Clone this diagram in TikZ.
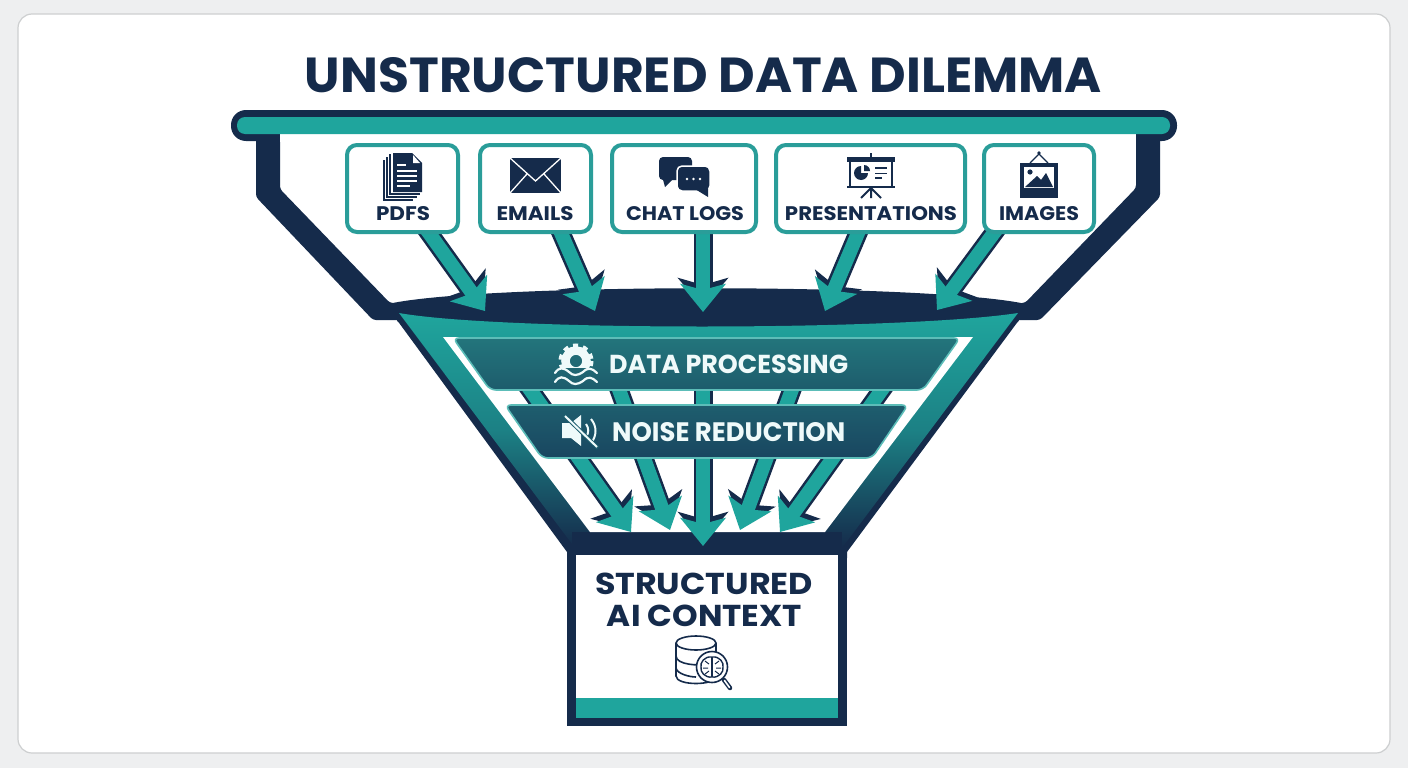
\documentclass[tikz,border=0pt]{standalone}
\usepackage{fontspec}
\usepackage{graphicx}
\setmainfont{Poppins}
\usetikzlibrary{arrows.meta,calc}
\definecolor{ink}{HTML}{152B4B}
\definecolor{tealm}{HTML}{1FA59D}
\definecolor{tealb}{HTML}{2A9D99}
\definecolor{pagebg}{HTML}{EEEFF0}
\definecolor{cardline}{HTML}{CDCFD0}
\definecolor{bandtop}{HTML}{23757C}
\definecolor{bandbot}{HTML}{1D5C6C}
\definecolor{bandtwo}{HTML}{1E5E6E}
\definecolor{bandtwob}{HTML}{194660}
\definecolor{bandline}{HTML}{5CBDB8}
\definecolor{paleband}{HTML}{EFFAFA}
\tikzset{
  srcbox/.style={draw=tealb,line width=4pt,fill=white,rounded corners=10pt,inner sep=0pt},
  srclabel/.style={font=\bfseries,text=ink,inner sep=0pt,anchor=base},
  bandlabel/.style={font=\bfseries,text=paleband,inner sep=0pt,anchor=base west},
  ctxlabel/.style={font=\bfseries,text=ink,inner sep=0pt,anchor=base},
  flowout/.style={draw=ink,line width=19pt,shorten >=4pt,-{Stealth[length=30pt,width=50pt,inset=7pt]}},
  flowin/.style={draw=tealm,line width=14pt,-{Stealth[length=28pt,width=45pt,inset=6pt]}},
}
\newcommand{\flowline}[2]{\draw[flowout] (#1) -- (#2); \draw[flowin] (#1) -- (#2);}
\newcommand{\fit}[3]{\resizebox{#1pt}{#2pt}{#3}}
\begin{document}
\begin{tikzpicture}[x=1pt,y=-1pt]
\useasboundingbox (0,0) rectangle (1408,768);
\fill[pagebg] (0,0) rectangle (1408,768);
\draw[cardline,line width=1.2pt,fill=white,rounded corners=14pt] (18,14) rectangle (1390,753);
\node[font=\bfseries,text=ink,inner sep=0pt,anchor=base] (title) at (703.5,92.5) {\fit{797}{35}{UNSTRUCTURED DATA DILEMMA}};

% walls
\fill[ink,rounded corners=3pt] (256,130) -- (256,197) -- (373,320) -- (1040,320) -- (1160,197) -- (1160,130) -- (1136,130) -- (1136,188) -- (1025,303) -- (390,303) -- (280,189) -- (280,130) -- cycle;
\fill[ink,rounded corners=15pt] (231,110) rectangle (1177,141);
\fill[white] (280,134) rectangle (1136,142);
\fill[tealm,rounded corners=8pt] (237,117) rectangle (1170,134);
% dark mouth
\fill[ink] (388,304) .. controls (480,283) and (930,283) .. (1026,304) -- (1018,322) -- (398,322) -- cycle;
% funnel cone
\fill[ink] (394,316) -- (567,552) -- (567,558) -- (847,558) -- (847,552) -- (1022,316) -- cycle;
\fill[ink] (398,310) .. controls (500,335) and (900,335) .. (1018,310) -- cycle;
\shade[top color=tealm,bottom color=ink,middle color=tealm!70!ink,shading angle=0]
  (399,313) .. controls (500,331) and (900,331) .. (1018,313) -- (842,548) -- (575,548) -- cycle;
\fill[ink] (572,532) rectangle (842,553);
\fill[white] (443,337) -- (973,337) -- (825,532) -- (590,532) -- cycle;

% lower arrows
\coordinate (b1s) at (526,384); \coordinate (b1t) at (631,532);
\coordinate (b2s) at (617,384); \coordinate (b2t) at (670,530);
\coordinate (b3s) at (703,384); \coordinate (b3t) at (703,546);
\coordinate (b4s) at (794,384); \coordinate (b4t) at (740,530);
\coordinate (b5s) at (886,384); \coordinate (b5t) at (780,532);
\flowline{b1s}{b1t}
\flowline{b2s}{b2t}
\flowline{b5s}{b5t}
\flowline{b4s}{b4t}
\flowline{b3s}{b3t}

% bands
\shade[top color=bandtop,bottom color=bandbot,draw=bandline,line width=1.6pt,rounded corners=6pt]
  (453,338) -- (960,338) -- (923,390) -- (490,390) -- cycle;
\node[bandlabel] (dp) at (609,373) {\fit{239}{18.5}{DATA PROCESSING}};
\shade[top color=bandtwo,bottom color=bandtwob,draw=bandline,line width=1.6pt,rounded corners=6pt]
  (505,405) -- (908,405) -- (872,458) -- (542,458) -- cycle;
\node[bandlabel] (nr) at (612,441) {\fit{233}{19}{NOISE REDUCTION}};
% gear + waves icon
\begin{scope}
  \clip (550,340) rectangle (600,367.5);
  \draw[paleband,line width=8.5pt] (576,361) circle (10.5);
  \draw[paleband,line width=4pt,dash pattern=on 5pt off 5pt] (576,361) circle (15.5);
\end{scope}
\draw[paleband,line width=2.2pt,line cap=round] (555,373) .. controls (559,367) and (563,367) .. (569,372) .. controls (573,376) and (577,376) .. (583,372) .. controls (588,367) and (592,368) .. (597,373);
\draw[paleband,line width=2.2pt,line cap=round] (555,382) .. controls (559,376) and (563,376) .. (569,381) .. controls (573,385) and (577,385) .. (583,381) .. controls (588,376) and (592,377) .. (597,382);
% speaker icon
\fill[paleband] (562,423) -- (571,423) -- (581,415) -- (581,446) -- (571,438) -- (562,438) -- cycle;
\draw[paleband,line width=2pt] (586,424) .. controls (589,428) and (589,433) .. (586,437);
\draw[paleband,line width=2pt] (591,419) .. controls (597,426) and (597,436) .. (591,443);
\draw[bandtwo,line width=4pt] (564,415) -- (598,448);
\draw[paleband,line width=2pt] (565,416) -- (597,447);

% output box
\fill[ink] (567,553) rectangle (847,726);
\fill[white] (576,555) rectangle (838,698);
\fill[tealm] (576,698) rectangle (838,718);
\node[ctxlabel] (c1) at (704,594) {\fit{218}{21.5}{STRUCTURED}};
\node[ctxlabel] (c2) at (704.5,626) {\fit{195}{21.5}{AI CONTEXT}};
% database icon
\draw[ink,line width=1.6pt,fill=white] (676,643) -- (676,676) .. controls (676,686) and (716,686) .. (716,676) -- (716,643);
\draw[ink,line width=1.6pt,fill=white] (696,643) ellipse (20 and 7);
\draw[ink,line width=1.6pt] (676,656) .. controls (676,665) and (700,666) .. (706,664);
\draw[ink,line width=1.6pt] (676,668) .. controls (677,674) and (690,677) .. (696,677);
\draw[ink,line width=1.6pt,fill=white] (712,667) circle (15.5);
\draw[ink,line width=1.4pt] (712,657) .. controls (704,656) and (700,663) .. (701,667) .. controls (700,672) and (705,678) .. (712,677) .. controls (719,678) and (724,672) .. (723,667) .. controls (724,663) and (720,656) .. (712,657);
\draw[ink,line width=1.2pt] (712,657) -- (712,677);
\draw[ink,line width=1pt] (705,661) -- (709,664) (703,668) -- (708,668) (705,674) -- (709,671) (719,661) -- (715,664) (721,668) -- (716,668) (719,674) -- (715,671);
\draw[ink,line width=4.5pt,line cap=round] (724,680) -- (730,688);
\draw[white,line width=1.6pt,line cap=round] (724.5,680.5) -- (729.5,687.5);

% upper arrows
\coordinate (a1s) at (424,226); \coordinate (a1t) at (485,311);
\coordinate (a2s) at (558,226); \coordinate (a2t) at (595,311);
\coordinate (a3s) at (703,226); \coordinate (a3t) at (703,312);
\coordinate (a4s) at (861,226); \coordinate (a4t) at (825,311);
\coordinate (a5s) at (999,226); \coordinate (a5t) at (937,310);
\flowline{a1s}{a1t}
\flowline{a2s}{a2t}
\flowline{a3s}{a3t}
\flowline{a4s}{a4t}
\flowline{a5s}{a5t}

% source boxes
\node[srcbox,minimum width=111pt,minimum height=87pt] (pdfs) at (402.5,188.5) {};
\node[srcbox,minimum width=111pt,minimum height=87pt] (emails) at (535.5,188.5) {};
\node[srcbox,minimum width=144pt,minimum height=87pt] (chat) at (684,188.5) {};
\node[srcbox,minimum width=189pt,minimum height=87pt] (pres) at (870.5,188.5) {};
\node[srcbox,minimum width=110pt,minimum height=87pt] (imgs) at (1039,188.5) {};
\node[srclabel] (lpdf) at (403,220) {\fit{54}{14}{PDFS}};
\node[srclabel] (lmail) at (535,220) {\fit{77}{14}{EMAILS}};
\node[srclabel] (lchat) at (685,220) {\fit{118}{14}{CHAT LOGS}};
\node[srclabel] (lpres) at (871,220) {\fit{172}{14}{PRESENTATIONS}};
\node[srclabel] (limg) at (1039,220) {\fit{80}{14}{IMAGES}};

% pdf icon
\draw[ink,line width=1.3pt] (384,160) -- (384,200) -- (413,200);
\draw[ink,line width=1.3pt] (387,157) -- (387,197) -- (417,197);
\draw[ink,line width=1.3pt,fill=white] (390,154) -- (390,194) -- (420,194);
\fill[ink] (393,153) -- (412,153) -- (422,163) -- (422,192) -- (393,192) -- cycle;
\fill[white] (413,155) -- (420,163) -- (413,163) -- cycle;
\draw[white,line width=1.3pt] (397,165) -- (406,165) (397,171) -- (417,171) (397,176) -- (417,176) (397,181) -- (417,181) (397,186) -- (410,186);
% envelope
\fill[ink] (510,158) rectangle (561,193);
\draw[white,line width=1.3pt] (510,158) -- (535.5,181) -- (561,158) (510,193) -- (527,174) (561,193) -- (544,174);
% chat
\fill[ink,rounded corners=4pt] (659,157) rectangle (692,180);
\fill[ink] (662,176) -- (665,187) -- (675,177) -- cycle;
\fill[ink,rounded corners=5pt,draw=white,line width=1.5pt] (677,166) rectangle (710,191);
\fill[ink] (695,189) -- (708,197) -- (708,189) -- cycle;
\fill[white] (687,179) circle (1.4) (693.5,179) circle (1.4) (700,179) circle (1.4);
% presentation
\fill[ink] (870,153) rectangle (872,158);
\fill[ink] (847,157) rectangle (895,162);
\draw[ink,line width=2pt] (850,161) -- (850,187) (892,161) -- (892,187);
\draw[ink,line width=2pt] (847,187) -- (895,187);
\draw[ink,line width=2pt] (871,187) -- (871,198) (871,188) -- (861,198) (871,188) -- (881,198);
\fill[ink] (861,173) -- (861,166) arc (-90:-360:7) -- cycle;
\fill[ink] (864,171) -- (864,165) arc (-90:0:6) -- cycle;
\draw[ink,line width=1.5pt] (875,168) -- (887,168) (875,173.5) -- (887,173.5) (875,178) -- (882,178);
% image
\draw[ink,line width=1.3pt] (1030,163) -- (1039,154) -- (1048,163);
\fill[ink] (1039,153) circle (1.8);
\fill[ink] (1020,163) rectangle (1058,198);
\fill[white] (1024,167) rectangle (1054,188);
\fill[ink] (1030,172) circle (2.6);
\fill[ink] (1025,187) -- (1037,176) -- (1041,180) -- (1046,173) -- (1053,187) -- cycle;
\end{tikzpicture}
\end{document}
